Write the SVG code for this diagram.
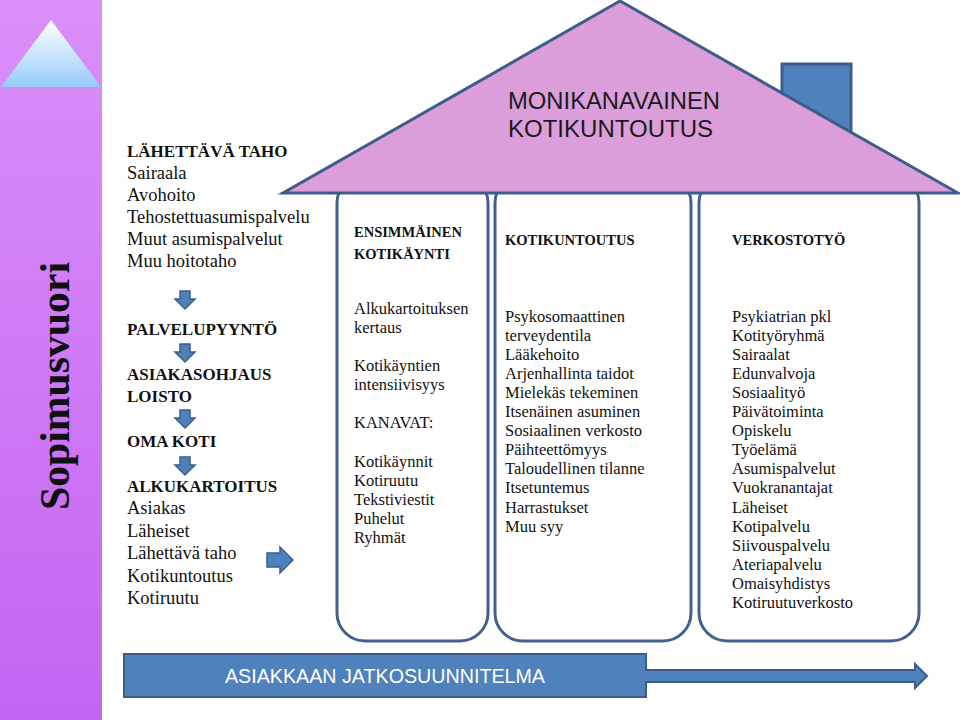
<svg xmlns="http://www.w3.org/2000/svg" width="960" height="720" viewBox="0 0 960 720">
  <defs>
    <linearGradient id="barGrad" x1="0" y1="0" x2="0" y2="1">
      <stop offset="0" stop-color="#da8ff9"/>
      <stop offset="1" stop-color="#c465f2"/>
    </linearGradient>
    <linearGradient id="triGrad" x1="0" y1="0" x2="0" y2="1">
      <stop offset="0" stop-color="#ffffff"/>
      <stop offset="1" stop-color="#96cbf8"/>
    </linearGradient>
    <style>
      .serif { font-family: "Liberation Serif", "DejaVu Serif", serif; fill: #111; }
      .lt { font-size: 18.5px; }
      .lb { font-size: 17px; font-weight: bold; }
      .bt { font-size: 16.5px; }
      .bh { font-size: 14.5px; font-weight: bold; }
      .box { fill: #ffffff; stroke: #43618f; stroke-width: 3; }
      .arrow { fill: #4f81bd; stroke: #3b5f8c; stroke-width: 1.5; stroke-linejoin: miter; }
      .sans { font-family: "Liberation Sans", Arial, sans-serif; }
    </style>
  </defs>

  <rect width="960" height="720" fill="#ffffff"/>

  <g id="left-panel">
    <rect x="0" y="0" width="102" height="720" fill="url(#barGrad)"/>
    <polygon points="51,20 101,87 1,87" fill="url(#triGrad)"/>
    <text class="serif" font-size="43" font-weight="bold" fill="#000" textLength="248" lengthAdjust="spacingAndGlyphs" transform="translate(69,510) rotate(-90)" x="0" y="0">Sopimusvuori</text>
  </g>

  <g id="left-column" class="serif">
    <text x="127" y="157" class="lb">LÄHETTÄVÄ TAHO</text>
    <text x="127" y="179" class="lt">Sairaala</text>
    <text x="127" y="201" class="lt">Avohoito</text>
    <text x="127" y="223" class="lt">Tehostettuasumispalvelu</text>
    <text x="127" y="245" class="lt">Muut asumispalvelut</text>
    <text x="127" y="267" class="lt">Muu hoitotaho</text>
    <text x="127" y="335" class="lb">PALVELUPYYNTÖ</text>
    <text x="127" y="380" class="lb">ASIAKASOHJAUS</text>
    <text x="127" y="402" class="lb">LOISTO</text>
    <text x="127" y="447" class="lb">OMA KOTI</text>
    <text x="127" y="492" class="lb">ALKUKARTOITUS</text>
    <text x="127" y="514" class="lt">Asiakas</text>
    <text x="127" y="537" class="lt">Läheiset</text>
    <text x="127" y="559" class="lt">Lähettävä taho</text>
    <text x="127" y="582" class="lt">Kotikuntoutus</text>
    <text x="127" y="604" class="lt">Kotiruutu</text>
  </g>

  <g id="box1">
    <rect class="box" x="337" y="175" width="151" height="466" rx="28" ry="28"/>
    <g class="serif">
      <text x="354" y="237" class="bh">ENSIMMÄINEN</text>
      <text x="354" y="259" class="bh">KOTIKÄYNTI</text>
      <text x="354" y="314" class="bt">Alkukartoituksen</text>
      <text x="354" y="333" class="bt">kertaus</text>
      <text x="354" y="371" class="bt">Kotikäyntien</text>
      <text x="354" y="390" class="bt">intensiivisyys</text>
      <text x="354" y="428" class="bt">KANAVAT:</text>
      <text x="354" y="467" class="bt">Kotikäynnit</text>
      <text x="354" y="486" class="bt">Kotiruutu</text>
      <text x="354" y="505" class="bt">Tekstiviestit</text>
      <text x="354" y="524" class="bt">Puhelut</text>
      <text x="354" y="543" class="bt">Ryhmät</text>
    </g>
  </g>

  <g id="box2">
    <rect class="box" x="495" y="175" width="196" height="466" rx="28" ry="28"/>
    <g class="serif">
      <text x="505" y="245" class="bh">KOTIKUNTOUTUS</text>
      <text x="505" y="321.5" class="bt">Psykosomaattinen</text>
      <text x="505" y="340.6" class="bt">terveydentila</text>
      <text x="505" y="359.7" class="bt">Lääkehoito</text>
      <text x="505" y="378.8" class="bt">Arjenhallinta taidot</text>
      <text x="505" y="397.9" class="bt">Mielekäs tekeminen</text>
      <text x="505" y="417" class="bt">Itsenäinen asuminen</text>
      <text x="505" y="436.1" class="bt">Sosiaalinen verkosto</text>
      <text x="505" y="455.2" class="bt">Päihteettömyys</text>
      <text x="505" y="474.3" class="bt">Taloudellinen tilanne</text>
      <text x="505" y="493.4" class="bt">Itsetuntemus</text>
      <text x="505" y="512.5" class="bt">Harrastukset</text>
      <text x="505" y="531.6" class="bt">Muu syy</text>
    </g>
  </g>

  <g id="box3">
    <rect class="box" x="699" y="175" width="220" height="466" rx="28" ry="28"/>
    <g class="serif">
      <text x="732" y="245" class="bh">VERKOSTOTYÖ</text>
      <text x="732" y="321.5" class="bt">Psykiatrian pkl</text>
      <text x="732" y="340.6" class="bt">Kotityöryhmä</text>
      <text x="732" y="359.7" class="bt">Sairaalat</text>
      <text x="732" y="378.8" class="bt">Edunvalvoja</text>
      <text x="732" y="397.9" class="bt">Sosiaalityö</text>
      <text x="732" y="417" class="bt">Päivätoiminta</text>
      <text x="732" y="436.1" class="bt">Opiskelu</text>
      <text x="732" y="455.2" class="bt">Työelämä</text>
      <text x="732" y="474.3" class="bt">Asumispalvelut</text>
      <text x="732" y="493.4" class="bt">Vuokranantajat</text>
      <text x="732" y="512.5" class="bt">Läheiset</text>
      <text x="732" y="531.6" class="bt">Kotipalvelu</text>
      <text x="732" y="550.7" class="bt">Siivouspalvelu</text>
      <text x="732" y="569.8" class="bt">Ateriapalvelu</text>
      <text x="732" y="588.9" class="bt">Omaisyhdistys</text>
      <text x="732" y="608" class="bt">Kotiruutuverkosto</text>
    </g>
  </g>

  <g id="roof">
    <rect x="782" y="64" width="69" height="90" fill="#4f81bd" stroke="#3d5c8a" stroke-width="3"/>
    <polygon points="620,1 958,193 283,193" fill="#dc9edb" stroke="#3d5c8a" stroke-width="3" stroke-linejoin="miter"/>
    <text class="sans" x="508" y="109" font-size="24" fill="#1a1a1a" textLength="212" lengthAdjust="spacingAndGlyphs">MONIKANAVAINEN</text>
    <text class="sans" x="508" y="137" font-size="24" fill="#1a1a1a" textLength="205" lengthAdjust="spacingAndGlyphs">KOTIKUNTOUTUS</text>
  </g>

  <g id="bottom-arrow">
    <path d="M124,654 H646 V670 H915 V664 L927,676 L915,688 V682 H646 V697 H124 Z" fill="#4f81bd" stroke="#3a5d8a" stroke-width="2"/>
    <text class="sans" x="225" y="683" font-size="20" fill="#ffffff" textLength="320" lengthAdjust="spacingAndGlyphs">ASIAKKAAN JATKOSUUNNITELMA</text>
  </g>

  <g id="connectors">
    <path class="arrow" d="M180,291 H190 V299 H195 L185,309 L175,299 H180 Z"/>
    <path class="arrow" d="M180,344 H190 V352 H195 L185,362 L175,352 H180 Z"/>
    <path class="arrow" d="M180,410 H190 V418 H195 L185,428 L175,418 H180 Z"/>
    <path class="arrow" d="M180,457 H190 V465 H195 L185,475 L175,465 H180 Z"/>
    <path class="arrow" d="M267,553 H280 V547 L293,560 L280,573 V567 H267 Z"/>
  </g>
</svg>
